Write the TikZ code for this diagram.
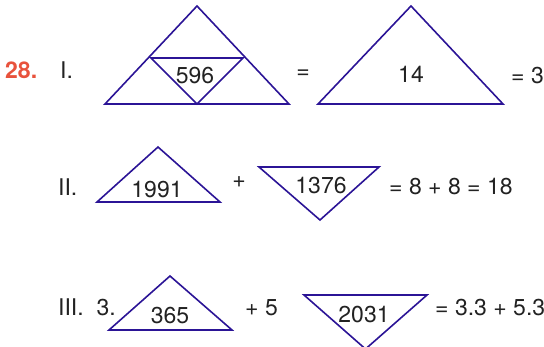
\documentclass[tikz,border=0pt]{standalone}
\usepackage{fontspec}
\setmainfont{TeX Gyre Heros}
\usepackage{tikz}
\usetikzlibrary{positioning}
\usepackage{xcolor}
\definecolor{triblue}{HTML}{2B1496}
\definecolor{numred}{HTML}{E8523C}
\definecolor{inkgray}{HTML}{222222}

\begin{document}
\begin{tikzpicture}[
    x=1pt, y=-1pt,
    tri/.style={draw=triblue, line width=1.6pt, line join=miter},
    txt/.style={inner sep=0pt, text=inkgray, font=\fontsize{23}{27}\selectfont},
    num/.style={txt, anchor=base},
    lead/.style={txt, anchor=base west}
  ]
    \useasboundingbox (0,0) rectangle (544,346);

    % Row I
    \node[lead, text=numred, font=\fontsize{23}{27}\selectfont\bfseries] (n28) at (5,78) {28.};
    \node[lead] (r1) at (60,78) {I.};
    \coordinate (a1) at (197,6);
    \coordinate (b1) at (105,104);
    \coordinate (c1) at (289,104);
    \draw[tri] (a1) -- (b1) -- (c1) -- cycle;
    \draw[tri] (151,58) -- (243,58) -- (197,104) -- cycle;
    \node[num] (t596) at (195,83) {596};
    \node[num] (eq1) at (303,78) {=};
    \coordinate (a2) at (411,6);
    \coordinate (b2) at (318,104);
    \coordinate (c2) at (503,104);
    \draw[tri] (a2) -- (b2) -- (c2) -- cycle;
    \node[num] (t14) at (411,82) {14};
    \node[lead] (res1) at (511,83) {= 3};

    % Row II
    \node[lead] (r2) at (58,195) {II.};
    \draw[tri] (158,147) -- (97,202) -- (220,202) -- cycle;
    \node[num] (t1991) at (157,197) {1991};
    \node[num] (plus2) at (239,187) {+};
    \draw[tri] (259,167) -- (379,167) -- (320,220) -- cycle;
    \node[num] (t1376) at (321,193) {1376};
    \node[lead] (res2) at (389,194) {= 8 + 8 = 18};

    % Row III
    \node[lead] (r3) at (58,315) {III.\ \ 3.};
    \draw[tri] (170,276) -- (109,330) -- (232,330) -- cycle;
    \node[num] (t365) at (170,323) {365};
    \node[lead] (plus3) at (245,315) {+ 5};
    \draw[tri] (304,295) -- (427,295) -- (365.5,349) -- cycle;
    \node[num] (t2031) at (364,322) {2031};
    \node[lead] (res3) at (435,315) {= 3.3 + 5.3};
\end{tikzpicture}
\end{document}
